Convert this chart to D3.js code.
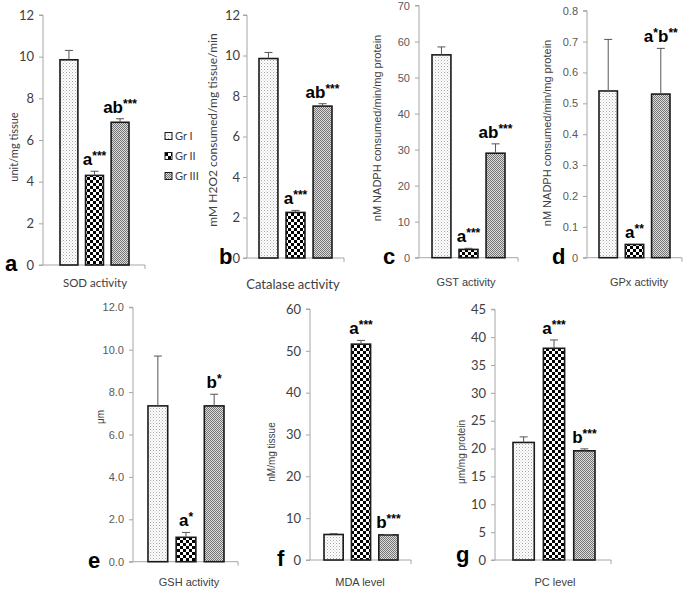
<!DOCTYPE html>
<html><head><meta charset="utf-8">
<script src="https://cdn.jsdelivr.net/npm/d3@7"></script>
<style>body{margin:0;background:#fff}</style>
</head><body>
<svg id="c" width="685" height="590"></svg>
<script>
// ---------- DATA ----------
const groups = ["Gr I", "Gr II", "Gr III"];
const panelTitles = ["SOD activity", "Catalase activity", "GST activity", "GPx activity", "GSH activity", "MDA level", "PC level"];
const panelLetters = ["a", "b", "c", "d", "e", "f", "g"];
const yLabels = ["unit/mg tissue", "mM H2O2 consumed/mg tissue/min", "nM NADPH consumed/min/mg protein",
  "nM NADPH consumed/min/mg protein", "μm", "nM/mg tissue", "μm/mg protein"];

const sodMean = [9.85, 4.3, 6.85],  sodErr = [0.45, 0.2, 0.17];
const catMean = [9.85, 2.25, 7.5],  catErr = [0.3, 0.1, 0.12];
const gstMean = [56.3, 2.3, 29.0],  gstErr = [2.2, 0.3, 2.6];
const gpxMean = [0.54, 0.043, 0.53], gpxErr = [0.167, 0, 0.148];
const gshMean = [7.35, 1.15, 7.35], gshErr = [2.35, 0.23, 0.55];
const mdaMean = [6.1, 51.6, 6.0],   mdaErr = [0.2, 0.9, 0.1];
const pcMean  = [21.1, 38.0, 19.6], pcErr  = [1.0, 1.5, 0.35];

const sodSig = ["", "a***", "ab***"];
const catSig = ["", "a***", "ab***"];
const gstSig = ["", "a***", "ab***"];
const gpxSig = ["", "a**", "a*b**"];
const gshSig = ["", "a*", "b*"];
const mdaSig = ["", "a***", "b***"];
const pcSig  = ["", "a***", "b***"];

const sodTicks = [0, 2, 4, 6, 8, 10, 12];
const catTicks = [0, 2, 4, 6, 8, 10, 12];
const gstTicks = [0, 10, 20, 30, 40, 50, 60, 70];
const gpxTicks = [0, 0.1, 0.2, 0.3, 0.4, 0.5, 0.6, 0.7, 0.8];
const gshTicks = [0, 2, 4, 6, 8, 10, 12];
const mdaTicks = [0, 10, 20, 30, 40, 50, 60];
const pcTicks  = [0, 5, 10, 15, 20, 25, 30, 35, 40, 45];

// ---------- LAYOUT / STYLE ----------
const CAL = "Lato, 'Open Sans', sans-serif";
const ARI = "'Liberation Sans', Arial, sans-serif";
const panels = [
  {mean: sodMean, err: sodErr, sig: sodSig, ticks: sodTicks, fmt: d3.format("d"), pad: 5,
   ax: 43, axEnd: 145, y0: 265, y1: 15, bL: 60, bR: 129, tf: CAL, ts: 13, tc: "#404040",
   yl: {x: 14, y: 147, fs: 11, f: CAL}, xl: {x: 95, y: 287, fs: 11.5, f: CAL}, let: {x: 5, y: 271}},
  {mean: catMean, err: catErr, sig: catSig, ticks: catTicks, fmt: d3.format("d"), pad: 3,
   ax: 247, axEnd: 344, y0: 258, y1: 15, bL: 259, bR: 332, tf: CAL, ts: 13, tc: "#404040",
   yl: {x: 213, y: 130, fs: 12, f: CAL}, xl: {x: 293, y: 289, fs: 13, f: CAL}, let: {x: 219, y: 264}},
  {mean: gstMean, err: gstErr, sig: gstSig, ticks: gstTicks, fmt: d3.format("d"), pad: 5,
   ax: 419, axEnd: 518, y0: 257.7, y1: 5.5, bL: 432, bR: 505, tf: ARI, ts: 11, tc: "#595959",
   yl: {x: 377, y: 128, fs: 11, f: ARI}, xl: {x: 466, y: 286, fs: 11, f: ARI}, let: {x: 383, y: 264}},
  {mean: gpxMean, err: gpxErr, sig: gpxSig, ticks: gpxTicks, fmt: d => d === 0 ? "0" : d3.format(".1f")(d), pad: 5,
   ax: 587, axEnd: 682, y0: 257.7, y1: 10.7, bL: 599, bR: 670, tf: ARI, ts: 11, tc: "#595959",
   yl: {x: 547, y: 133, fs: 11, f: ARI}, xl: {x: 639, y: 286, fs: 11, f: ARI}, let: {x: 552, y: 264}},
  {mean: gshMean, err: gshErr, sig: gshSig, ticks: gshTicks, fmt: d3.format(".1f"), pad: 5,
   ax: 133, axEnd: 238, y0: 561.7, y1: 307.3, bL: 148, bR: 224, tf: ARI, ts: 11, tc: "#595959",
   yl: {x: 100, y: 417, fs: 10, f: ARI}, xl: {x: 189, y: 586, fs: 11, f: ARI}, let: {x: 88, y: 568}},
  {mean: mdaMean, err: mdaErr, sig: mdaSig, ticks: mdaTicks, fmt: d3.format("d"), pad: 5,
   ax: 310, axEnd: 411, y0: 560, y1: 309, bL: 324, bR: 398, tf: CAL, ts: 13, tc: "#404040",
   yl: {x: 271, y: 452, fs: 10, f: ARI}, xl: {x: 360, y: 586, fs: 11, f: ARI}, let: {x: 277, y: 566}},
  {mean: pcMean, err: pcErr, sig: pcSig, ticks: pcTicks, fmt: d3.format("d"), pad: 5,
   ax: 495, axEnd: 611, y0: 560, y1: 309.3, bL: 513, bR: 595, tf: CAL, ts: 13, tc: "#404040",
   yl: {x: 461, y: 452, fs: 10, f: ARI}, xl: {x: 555, y: 586, fs: 11, f: ARI}, let: {x: 456, y: 562}}
];
const yMax = [12, 12, 70, 0.8, 12, 60, 45];

const svg = d3.select("#c");
const defs = svg.append("defs");
// Gr I: light dots
const p1 = defs.append("pattern").attr("id", "p1").attr("width", 3).attr("height", 3).attr("patternUnits", "userSpaceOnUse");
p1.append("rect").attr("width", 3).attr("height", 3).attr("fill", "#fff");
p1.append("rect").attr("x", 0).attr("y", 0).attr("width", 1).attr("height", 1).attr("fill", "#a8a8a8");
p1.append("rect").attr("x", 1.5).attr("y", 1.5).attr("width", 1).attr("height", 1).attr("fill", "#c4c4c4");
// Gr II: coarse checker
const p2 = defs.append("pattern").attr("id", "p2").attr("width", 6).attr("height", 6).attr("patternUnits", "userSpaceOnUse");
p2.append("rect").attr("width", 6).attr("height", 6).attr("fill", "#fff");
p2.append("rect").attr("width", 3).attr("height", 3).attr("fill", "#000");
p2.append("rect").attr("x", 3).attr("y", 3).attr("width", 3).attr("height", 3).attr("fill", "#000");
// Gr III: fine gray checker
const p3 = defs.append("pattern").attr("id", "p3").attr("width", 2).attr("height", 2).attr("patternUnits", "userSpaceOnUse");
p3.append("rect").attr("width", 2).attr("height", 2).attr("fill", "#dcdcdc");
p3.append("rect").attr("width", 1).attr("height", 1).attr("fill", "#767676");
p3.append("rect").attr("x", 1).attr("y", 1).attr("width", 1).attr("height", 1).attr("fill", "#767676");
const fills = ["url(#p1)", "url(#p2)", "url(#p3)"];

const axisColor = "#a6a6a6";

panels.forEach((p, i) => {
  const g = svg.append("g");
  const y = d3.scaleLinear().domain([0, yMax[i]]).range([p.y0, p.y1]);
  const x = d3.scaleBand().domain(groups).range([p.bL, p.bR]).paddingInner(0.3).paddingOuter(0);

  // y axis
  const yAxis = d3.axisLeft(y).tickValues(p.ticks).tickFormat(p.fmt).tickSize(4).tickPadding(p.pad);
  const ya = g.append("g").attr("transform", `translate(${p.ax},0)`).call(yAxis);
  ya.select(".domain").attr("stroke", axisColor).attr("d", `M-4,${p.y0}H0V${p.y1}H-4`);
  ya.selectAll(".tick line").attr("stroke", axisColor);
  ya.selectAll(".tick text").attr("fill", p.tc).style("font-family", p.tf).style("font-size", p.ts + "px");

  // x axis line
  g.append("path").attr("d", `M${p.ax},${p.y0}H${p.axEnd}V${p.y0 + 4}`).attr("stroke", axisColor).attr("fill", "none");

  // bars
  groups.forEach((gr, j) => {
    const bx = x(gr), bw = x.bandwidth();
    const v = p.mean[j];
    g.append("rect").attr("x", bx).attr("y", y(v)).attr("width", bw).attr("height", y(0) - y(v))
      .attr("fill", fills[j]).attr("stroke", "#1a1a1a").attr("stroke-width", 1.6);
    // error bar
    if (p.err[j] > 0) {
      const cx = bx + bw / 2, ye = y(v + p.err[j]);
      g.append("line").attr("x1", cx).attr("x2", cx).attr("y1", y(v)).attr("y2", ye).attr("stroke", "#555").attr("stroke-width", 1);
      g.append("line").attr("x1", cx - 4).attr("x2", cx + 4).attr("y1", ye).attr("y2", ye).attr("stroke", "#555").attr("stroke-width", 1);
    }
    // significance label
    const s = p.sig[j];
    if (s) {
      const t = g.append("text").attr("x", bx + bw / 2).attr("y", y(v + p.err[j]) - 6)
        .attr("text-anchor", "middle").style("font-family", ARI).style("font-weight", "bold").attr("fill", "#000");
      const parts = s.match(/[a-z]+|\*+/g);
      let raised = false;
      parts.forEach(part => {
        if (part[0] === "*") {
          t.append("tspan").text(part).style("font-size", "12px").attr("dy", raised ? 0 : -5);
          raised = true;
        } else {
          t.append("tspan").text(part).style("font-size", "17px").attr("dy", raised ? 5 : 0);
          raised = false;
        }
      });
    }
  });

  // y label
  g.append("text").attr("transform", `translate(${p.yl.x},${p.yl.y}) rotate(-90)`).attr("text-anchor", "middle")
    .attr("dy", "0.35em").style("font-family", p.yl.f).style("font-size", p.yl.fs + "px").attr("fill", "#404040")
    .text(yLabels[i]);
  // x label
  g.append("text").attr("x", p.xl.x).attr("y", p.xl.y).attr("text-anchor", "middle")
    .style("font-family", p.xl.f).style("font-size", p.xl.fs + "px").attr("fill", "#404040").text(panelTitles[i]);
  // panel letter
  g.append("text").attr("x", p.let.x).attr("y", p.let.y).style("font-family", ARI).style("font-weight", "bold")
    .style("font-size", "22px").attr("fill", "#000").text(panelLetters[i]);
});

// legend
const leg = svg.append("g");
groups.forEach((gr, j) => {
  const ly = [136, 156, 176][j];
  leg.append("rect").attr("x", 165).attr("y", ly - 3.5).attr("width", 7).attr("height", 7)
    .attr("fill", fills[j]).attr("stroke", "#1a1a1a").attr("stroke-width", 1);
  leg.append("text").attr("x", 175).attr("y", ly).attr("dy", "0.35em").style("font-family", CAL)
    .style("font-size", "11px").attr("fill", "#404040").text(gr);
});
</script>
</body></html>
